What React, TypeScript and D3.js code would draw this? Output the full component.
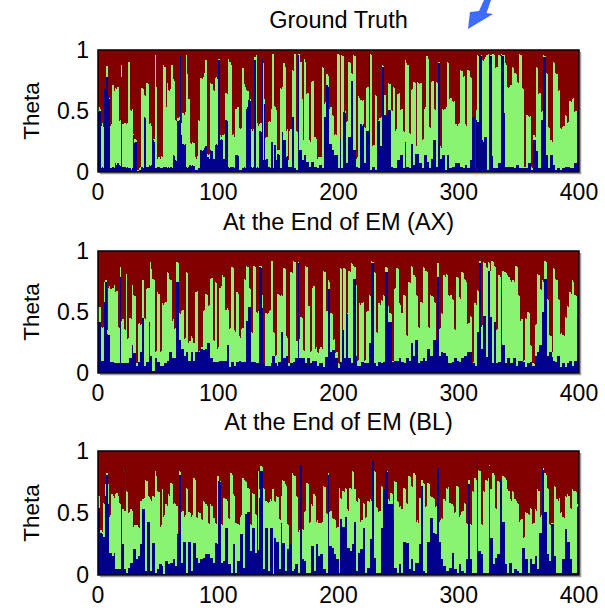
import React from 'react';
import * as d3 from 'd3';

const xTicks = [0, 100, 200, 300, 400];
const yTicks = [0, 0.5, 1];
const titles = ['Ground Truth', 'At the End of EM (AX)', 'At the End of EM (BL)'];
const yLabel = 'Theta';

// theta of the first component (blue), percent
const gtBlue = [
  49,50,3,4,3,68,66,78,62,60,3,3,4,3,7,6,7,6,5,78,4,3,4,3,4,3,3,2,3,30,24,25,1,1,2,2,4,3,45,44,4,4,6,5,6,26,25,3,3,4,4,3,3,3,4,4,4,3,4,3,4,3,14,13,10,9,42,43,95,30,23,22,23,4,3,4,6,5,6,5,2,2,2,3,3,18,17,18,20,21,11,12,11,18,17,11,11,22,23,22,92,26,27,26,11,11,43,42,4,3,4,4,4,3,14,14,13,2,2,2,3,4,3,52,53,59,58,4,3,4,92,3,4,3,
  34,33,93,10,56,10,11,4,4,3,25,3,22,22,10,15,14,3,3,33,26,26,12,13,4,4,4,45,45,3,2,2,96,18,18,4,10,14,14,8,8,4,4,8,8,4,4,4,3,3,6,6,3,3,45,45,71,70,23,23,18,18,14,14,14,3,3,27,3,3,49,48,7,7,29,29,75,75,18,18,4,4,3,3,39,38,39,7,7,34,34,99,2,2,4,4,2,2,43,42,21,21,86,86,47,47,48,51,51,4,4,3,3,3,3,10,10,14,14,3,3,25,4,4,3,3,23,23,6,6,15,
  15,15,7,7,3,3,14,14,8,8,3,3,11,11,26,26,4,4,89,11,11,14,14,2,2,14,14,3,3,4,4,4,7,7,7,7,4,4,3,3,6,6,3,3,10,10,44,45,2,43,41,41,96,95,26,25,29,29,2,2,95,95,13,3,3,3,3,3,7,7,96,95,48,4,4,4,4,4,4,4,4,3,3,6,6,3,3,3,3,3,3,3,3,7,7,2,2,26,26,17,17,3,3,43,43,94,94,14,14,3,3,14,14,6,6,2,2,3,3,2,2,3,3,4,4,4,4,3,3,3,3,7,7,49,50,
];
// theta of the first two components (top of green), percent
const gtTop = [
  53,52,38,40,37,68,67,87,62,61,38,39,71,66,69,68,70,42,43,88,39,38,40,39,40,90,51,50,52,31,27,26,2,2,3,4,69,68,63,62,73,72,39,40,38,26,27,96,70,11,12,11,13,12,88,86,53,73,67,66,68,88,76,75,43,42,44,45,95,40,48,47,49,96,80,60,24,23,25,24,12,11,13,43,42,77,76,78,81,92,15,14,15,73,72,67,66,77,78,76,93,30,29,30,30,31,65,64,93,90,88,30,31,29,52,51,53,36,35,36,85,72,70,67,66,59,60,35,34,35,94,96,40,38,
  39,40,93,89,60,28,29,41,42,41,52,97,54,53,51,18,18,69,68,70,89,86,34,35,10,34,35,84,83,97,34,33,97,97,90,60,26,93,90,64,65,26,25,74,75,28,29,27,11,12,11,12,86,85,56,57,80,79,52,53,47,46,30,31,30,97,96,27,96,95,49,50,41,42,90,89,81,80,96,95,11,12,62,61,59,58,59,37,36,69,70,99,97,96,21,22,63,62,43,43,44,45,88,87,63,47,48,73,72,51,50,70,69,34,35,64,65,51,52,34,33,92,89,88,32,31,67,68,74,73,21,
  74,73,72,73,26,27,52,53,95,93,37,36,74,75,52,51,74,73,90,21,20,52,51,52,53,90,89,60,61,58,57,58,39,38,39,40,84,83,78,79,39,38,84,83,78,77,44,45,2,51,96,95,96,96,92,91,93,94,96,97,95,96,93,97,96,85,86,39,96,95,97,96,96,89,88,70,69,70,71,86,85,81,80,74,73,97,96,69,68,4,4,47,46,45,46,4,3,30,29,86,85,64,65,49,50,96,95,81,80,37,36,26,25,90,89,81,80,66,67,36,35,37,38,47,46,40,41,58,57,60,61,49,50,49,50,
];

const axBlue = [
  42,42,10,10,10,58,75,32,31,31,9,9,9,8,8,8,8,8,79,8,8,8,8,8,8,8,12,12,23,16,16,6,6,9,9,17,17,45,6,6,9,9,42,14,14,2,2,12,12,9,9,6,6,6,6,8,8,10,10,17,17,12,12,12,12,75,75,27,27,20,20,14,14,17,17,10,10,17,17,10,10,17,17,17,17,20,20,19,19,20,20,25,25,12,12,9,9,9,9,9,9,10,10,10,10,10,10,23,23,5,5,9,9,6,6,9,9,10,10,9,9,9,9,43,43,54,54,9,9,9,9,8,8,8,
  87,86,53,8,8,6,6,6,6,6,8,14,14,8,8,6,9,9,34,34,12,12,14,14,6,6,8,8,9,9,12,12,90,12,12,12,12,12,8,8,12,12,8,8,10,10,10,10,6,6,8,8,8,5,5,13,13,69,69,17,17,19,19,12,12,4,4,9,9,35,12,12,49,48,12,12,8,8,77,77,14,6,6,6,6,9,9,8,8,8,8,25,25,90,90,8,8,6,6,9,9,8,8,9,9,83,83,42,42,42,9,9,10,10,10,10,12,12,9,9,8,8,12,12,10,10,25,25,14,14,
  27,27,8,8,10,10,12,12,10,10,20,20,14,14,14,27,27,28,79,14,14,17,17,16,16,14,14,8,8,8,9,9,12,12,10,10,9,9,12,12,14,14,14,17,17,17,17,8,8,6,6,34,34,90,20,20,47,47,13,13,84,84,46,8,8,42,42,8,8,9,9,69,23,23,8,8,12,12,8,8,8,12,12,6,6,10,10,10,10,9,9,5,5,8,8,9,9,6,6,14,14,17,17,23,23,50,50,77,77,14,14,17,17,13,10,10,9,9,14,14,5,5,8,8,5,5,8,8,10,10,6,6,10,10,47,46,
];
const axTop = [
  54,54,38,37,38,75,76,35,70,71,69,68,70,72,66,67,38,37,87,43,44,36,35,81,28,29,45,44,72,64,63,8,8,40,41,39,40,76,45,44,69,70,70,91,85,77,76,17,18,66,65,17,18,57,56,57,58,83,82,77,76,43,44,36,37,91,90,49,48,51,52,28,29,83,82,25,26,30,29,25,24,66,67,17,18,20,21,51,52,65,64,55,56,77,78,27,26,75,74,20,21,70,71,80,79,51,52,53,52,36,37,87,86,35,34,66,65,30,29,36,37,77,76,88,87,70,69,34,33,88,87,50,49,51,
  88,88,64,8,8,49,48,49,51,52,92,34,33,14,15,65,64,63,64,63,86,85,30,29,8,8,83,82,92,91,25,26,91,28,46,45,19,18,88,87,54,55,17,18,70,71,20,21,17,16,20,21,20,84,83,50,51,76,75,49,48,27,28,16,17,8,7,86,85,35,86,85,49,49,84,83,90,89,88,87,72,10,11,57,56,57,58,10,11,50,51,64,63,92,91,83,82,34,33,57,56,60,59,64,63,87,86,55,49,48,10,10,69,70,86,85,57,56,49,48,64,63,31,30,75,74,88,87,80,79,
  64,63,38,37,58,57,87,86,84,83,38,37,64,63,62,58,57,28,90,36,37,49,48,80,79,81,80,64,63,64,61,60,36,35,79,78,62,61,83,82,77,76,75,40,41,47,46,8,9,57,56,68,67,92,38,39,91,90,87,86,91,90,84,92,91,88,87,35,36,80,79,69,84,83,83,82,80,79,76,75,76,76,75,88,87,64,63,43,44,10,11,45,44,50,49,23,22,8,7,39,40,81,80,69,68,76,75,92,91,61,60,31,30,17,86,85,77,76,61,60,32,33,31,30,46,45,55,54,66,65,76,75,64,63,47,47,
];

const blBlue = [
  54,34,34,33,31,31,64,81,57,18,18,15,15,18,5,5,5,5,5,86,25,5,5,2,2,6,6,10,10,21,21,13,13,15,15,25,25,53,53,3,3,43,43,3,3,26,26,2,2,5,5,9,9,7,1,1,11,11,9,9,10,10,13,13,7,7,33,81,81,10,10,27,27,2,2,27,27,3,3,26,26,14,14,10,10,13,13,14,14,17,17,17,17,14,14,10,10,26,26,25,76,75,10,10,11,11,38,38,9,9,2,2,25,25,2,2,11,11,33,33,6,6,49,49,51,51,19,19,38,38,18,18,86,20,
  62,84,84,5,5,38,38,3,3,38,38,1,30,30,27,27,5,5,42,26,26,3,3,21,21,24,25,3,3,5,9,9,2,2,89,13,13,11,11,2,2,2,2,23,23,3,3,25,25,15,15,17,17,5,5,2,2,81,23,23,22,22,17,17,13,13,2,45,45,39,39,47,47,22,22,19,19,25,25,43,3,3,18,18,21,21,38,38,2,2,6,6,29,29,92,14,14,2,2,2,2,38,38,68,69,84,83,57,57,57,57,45,6,6,2,2,9,9,2,2,27,27,26,26,5,5,13,13,3,3,
  10,10,10,25,25,72,3,3,2,2,27,27,46,46,34,34,33,33,86,27,27,13,13,7,7,3,3,3,6,6,18,18,5,5,2,2,9,9,3,3,2,2,13,13,73,13,13,2,2,2,2,90,19,19,17,17,2,2,2,2,2,88,30,30,9,9,14,14,17,17,77,76,43,43,9,9,2,2,10,10,2,2,5,5,3,3,2,2,2,22,22,13,13,2,2,13,13,9,9,15,15,5,5,34,34,86,85,51,51,17,17,11,11,41,41,15,15,2,2,2,2,2,13,13,37,37,27,27,13,13,2,2,2,2,55,56,
];
const blTop = [
  64,35,36,35,58,57,73,82,73,47,48,65,64,62,65,66,64,58,57,86,53,51,52,68,67,50,51,53,52,39,40,39,40,39,38,60,59,61,62,77,76,64,63,61,60,64,63,84,80,68,67,39,40,69,47,48,57,56,65,64,74,73,57,58,57,56,33,84,83,51,52,47,48,70,69,51,50,47,48,78,77,47,46,51,50,45,44,60,59,57,56,42,41,57,56,45,46,42,41,80,76,76,41,40,62,61,61,60,46,45,82,81,65,64,42,41,41,40,47,48,78,77,76,75,70,69,41,40,66,65,49,48,86,84,
  69,88,87,70,69,60,59,58,59,61,60,69,60,59,64,63,45,44,64,77,76,73,72,41,40,24,25,82,81,80,64,63,35,36,89,37,36,51,52,74,73,42,43,57,56,65,64,43,44,42,41,42,43,72,71,50,49,82,51,52,46,45,45,44,38,39,70,62,61,68,67,70,69,53,52,70,69,84,83,69,60,59,62,61,43,44,58,57,46,47,60,59,61,60,92,84,83,55,54,51,52,72,71,68,69,84,84,61,60,66,65,45,76,75,60,59,55,56,53,52,70,69,58,57,80,79,72,71,82,81,
  43,44,42,62,61,77,74,73,55,56,74,73,64,63,62,61,55,56,86,43,44,46,45,61,60,70,69,71,58,57,57,56,50,51,72,71,47,48,51,52,58,57,42,41,77,41,40,68,67,78,77,90,85,84,41,40,68,67,77,76,78,89,69,68,82,81,54,53,76,75,77,76,80,79,78,77,69,68,61,60,68,67,61,60,58,57,43,44,45,30,31,51,50,49,48,54,53,41,42,53,52,69,68,47,48,86,86,82,81,70,69,41,40,42,42,72,71,61,60,62,50,51,47,46,64,63,65,64,54,53,69,68,68,67,57,57,
];

const colors = { blue: '#00008c', green: '#8af472', red: '#800000' };
const font = '"Liberation Sans", Arial, sans-serif';

const panels = [
  { title: titles[0], blue: gtBlue, top: gtTop, y0: 50, y1: 172, titleY: 28 },
  { title: titles[1], blue: axBlue, top: axTop, y0: 251, y1: 373, titleY: 230 },
  { title: titles[2], blue: blBlue, top: blTop, y0: 451, y1: 575, titleY: 430 },
];

const left = 98;
const right = 579;

function Panel({ p }) {
  const x = d3.scaleLinear().domain([0, 400]).range([left, right]);
  const y = d3.scaleLinear().domain([0, 1]).range([p.y1, p.y0]);

  const rows = p.blue.map((b, i) => {
    const t = Math.max(b, p.top[i]);
    return { blue: b / 100, green: (t - b) / 100, red: 1 - t / 100 };
  });
  const series = d3.stack().keys(['blue', 'green', 'red'])(rows);
  const bw = x(1) - x(0);

  // red fills the whole box (it always tops up to 1); green and blue are drawn from 0 on top of it
  return (
    <g>
      <text x={(left + right) / 2} y={p.titleY} textAnchor="middle" fontSize={23.5}>
        {p.title}
      </text>
      <path d={`M${right + 1.5},${p.y0 + 2} V${p.y1 + 1.5} H${left + 2}`} fill="none" stroke="#9a9a9a" strokeWidth={1.5} />
      <rect x={left} y={y(1)} width={right - left} height={y(0) - y(1)} fill={colors.red} />
      {series.slice(0, 2).reverse().map((s) => (
        <g key={s.key} fill={colors[s.key]} shapeRendering="crispEdges">
          {s.map((d, i) => (
            <rect key={i} x={x(i)} y={y(d[1])} width={bw + 0.3}
              height={Math.max(0, y(0) - y(d[1]))} />
          ))}
        </g>
      ))}
      <rect x={left} y={p.y0} width={right - left} height={p.y1 - p.y0}
        fill="none" stroke="#000" strokeWidth={1.5} />
      {xTicks.map((t) => (
        <text key={t} x={x(t)} y={p.y1 + 28} textAnchor="middle" fontSize={23}>{t}</text>
      ))}
      {yTicks.map((t) => (
        <text key={t} x={89} y={y(t) + 8} textAnchor="end" fontSize={23}>{d3.format('~g')(t)}</text>
      ))}
      <text transform={`translate(39, ${(p.y0 + p.y1) / 2}) rotate(-90)`} textAnchor="middle" fontSize={22.5}>
        {yLabel}
      </text>
    </g>
  );
}

export default function App() {
  return (
    <svg width={605} height={610} style={{ position: 'absolute', left: 0, top: 0, background: '#fff' }}
      fontFamily={font} fill="#000">
      {panels.map((p, i) => <Panel key={i} p={p} />)}
      <path d="M468,29 L470,12 L479,11 L484,0 L491,0 L486.5,13 L493,14 Z" fill="#3f6bff" />
    </svg>
  );
}
